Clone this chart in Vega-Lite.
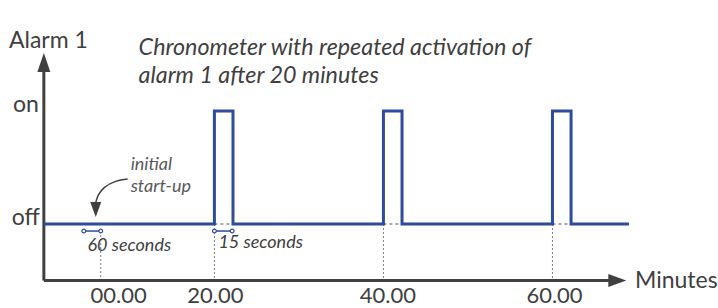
{
  "$schema": "https://vega.github.io/schema/vega-lite/v6.json",
  "autosize": {"type": "fit", "contains": "padding"},
  "width": 718,
  "height": 308,
  "padding": 0,
  "background": "white",
  "config": {"view": {"stroke": null}},
  "datasets": {
    "signal": [
      {"t": -0.18, "v": 0, "o": 1}, {"t": 20, "v": 0, "o": 2}, {"t": 20, "v": 1, "o": 3}, {"t": 22.2, "v": 1, "o": 4}, {"t": 22.2, "v": 0, "o": 5},
      {"t": 40, "v": 0, "o": 6}, {"t": 40, "v": 1, "o": 7}, {"t": 42.2, "v": 1, "o": 8}, {"t": 42.2, "v": 0, "o": 9},
      {"t": 60, "v": 0, "o": 10}, {"t": 60, "v": 1, "o": 11}, {"t": 62.2, "v": 1, "o": 12}, {"t": 62.2, "v": 0, "o": 13},
      {"t": 69.05, "v": 0, "o": 14}
    ],
    "gaps": [
      {"a": 20, "b": 22.2, "v": 0}, {"a": 40, "b": 42.2, "v": 0}, {"a": 60, "b": 62.2, "v": 0}
    ],
    "guides": [
      {"t": 6.55, "v1": -0.062, "v2": -0.5}, {"t": 20, "v1": 0, "v2": -0.5}, {"t": 40, "v1": 0, "v2": -0.5}, {"t": 60, "v1": 0, "v2": -0.5}
    ],
    "axes": [
      {"t1": -0.18, "t2": 66.9, "v1": -0.5, "v2": -0.5},
      {"t1": -0.18, "t2": -0.18, "v1": -0.5, "v2": 1.40}
    ],
    "arrows": [
      {"name": "up", "t": -0.18, "v": 1.429},
      {"name": "right", "t": 67.67, "v": -0.5},
      {"name": "down", "t": 5.96, "v": 0.128}
    ],
    "spans": [
      {"a": 4.54, "b": 6.55, "v": -0.062}, {"a": 20, "b": 22.1, "v": -0.062}
    ],
    "ends": [
      {"t": 4.54, "v": -0.062}, {"t": 6.55, "v": -0.062}, {"t": 20, "v": -0.062}, {"t": 22.1, "v": -0.062}
    ],
    "curve": [
      {"t": 9.73, "v": 0.398, "o": 1}, {"t": 8.2, "v": 0.381, "o": 2}, {"t": 6.9, "v": 0.327, "o": 3}, {"t": 6.2, "v": 0.257, "o": 4}, {"t": 5.96, "v": 0.19, "o": 5}
    ],
    "labelsLeft": [
      {"label": "Alarm 1", "t": -4.31, "v": 1.558},
      {"label": "Minutes", "t": 69.76, "v": -0.569}
    ],
    "labelsRight": [
      {"label": "on", "t": -0.77, "v": 0.991},
      {"label": "off", "t": -0.65, "v": -0.01}
    ],
    "ticks": [
      {"label": "00.00", "t": 8.67, "v": -0.699},
      {"label": "20.00", "t": 20.12, "v": -0.699},
      {"label": "40.00", "t": 40.53, "v": -0.699},
      {"label": "60.00", "t": 60.24, "v": -0.699}
    ],
    "title": [
      {"label": "Chronometer with repeated activation of", "t": 11.03, "v": 1.496},
      {"label": "alarm 1 after 20 minutes", "t": 11.03, "v": 1.248}
    ],
    "notes": [
      {"label": "60 seconds", "t": 4.98, "v": -0.235},
      {"label": "15 seconds", "t": 20.47, "v": -0.215}
    ],
    "startup": [
      {"label": "initial", "t": 10.09, "v": 0.478},
      {"label": "start-up", "t": 10.09, "v": 0.283}
    ]
  },
  "encoding": {
    "x": {"type": "quantitative", "scale": {"domain": [-5.369, 79.35], "nice": false, "zero": false}, "axis": null},
    "y": {"type": "quantitative", "scale": {"domain": [-0.743, 1.982], "nice": false, "zero": false}, "axis": null}
  },
  "layer": [
    {
      "data": {"name": "guides"},
      "mark": {"type": "rule", "color": "#7f7f7f", "strokeWidth": 1, "strokeDash": [2, 2]},
      "encoding": {"x": {"field": "t"}, "y": {"field": "v1"}, "y2": {"field": "v2"}}
    },
    {
      "data": {"name": "gaps"},
      "mark": {"type": "rule", "color": "#8c8c8c", "strokeWidth": 1.5, "strokeDash": [3, 3]},
      "encoding": {"x": {"field": "a"}, "x2": {"field": "b"}, "y": {"field": "v"}}
    },
    {
      "data": {"name": "axes"},
      "mark": {"type": "rule", "color": "#404040", "strokeWidth": 3},
      "encoding": {"x": {"field": "t1"}, "x2": {"field": "t2"}, "y": {"field": "v1"}, "y2": {"field": "v2"}}
    },
    {
      "data": {"name": "arrows"},
      "transform": [{"filter": "datum.name === 'up'"}],
      "mark": {"type": "point", "shape": "M0,-0.95L0.65,0.95L-0.65,0.95Z", "size": 400, "filled": true, "color": "#404040", "opacity": 1},
      "encoding": {"x": {"field": "t"}, "y": {"field": "v"}}
    },
    {
      "data": {"name": "arrows"},
      "transform": [{"filter": "datum.name === 'right'"}],
      "mark": {"type": "point", "shape": "M0.9,0L-0.9,0.65L-0.9,-0.65Z", "size": 400, "filled": true, "color": "#404040", "opacity": 1},
      "encoding": {"x": {"field": "t"}, "y": {"field": "v"}}
    },
    {
      "data": {"name": "arrows"},
      "transform": [{"filter": "datum.name === 'down'"}],
      "mark": {"type": "point", "shape": "M0,0.75L0.55,-0.75L-0.55,-0.75Z", "size": 400, "filled": true, "color": "#404040", "opacity": 1},
      "encoding": {"x": {"field": "t"}, "y": {"field": "v"}}
    },
    {
      "data": {"name": "curve"},
      "mark": {"type": "line", "color": "#404040", "strokeWidth": 1.5, "interpolate": "basis"},
      "encoding": {"x": {"field": "t"}, "y": {"field": "v"}, "order": {"field": "o"}}
    },
    {
      "data": {"name": "signal"},
      "mark": {"type": "line", "color": "#2f4b9b", "strokeWidth": 3, "strokeJoin": "miter"},
      "encoding": {"x": {"field": "t"}, "y": {"field": "v"}, "order": {"field": "o"}}
    },
    {
      "data": {"name": "spans"},
      "mark": {"type": "rule", "color": "#2f4b9b", "strokeWidth": 1.5},
      "encoding": {"x": {"field": "a"}, "x2": {"field": "b"}, "y": {"field": "v"}}
    },
    {
      "data": {"name": "ends"},
      "mark": {"type": "point", "shape": "circle", "size": 14, "filled": true, "fill": "white", "stroke": "#2f4b9b", "strokeWidth": 1.2, "opacity": 1},
      "encoding": {"x": {"field": "t"}, "y": {"field": "v"}}
    },
    {
      "data": {"name": "labelsLeft"},
      "mark": {"type": "text", "align": "left", "baseline": "alphabetic", "font": "Lato", "fontSize": 23, "color": "#404040"},
      "encoding": {"x": {"field": "t"}, "y": {"field": "v"}, "text": {"field": "label"}}
    },
    {
      "data": {"name": "labelsRight"},
      "mark": {"type": "text", "align": "right", "baseline": "alphabetic", "font": "Lato", "fontSize": 23, "color": "#404040"},
      "encoding": {"x": {"field": "t"}, "y": {"field": "v"}, "text": {"field": "label"}}
    },
    {
      "data": {"name": "ticks"},
      "mark": {"type": "text", "align": "center", "baseline": "alphabetic", "font": "Lato", "fontSize": 22, "color": "#404040"},
      "encoding": {"x": {"field": "t"}, "y": {"field": "v"}, "text": {"field": "label"}}
    },
    {
      "data": {"name": "title"},
      "mark": {"type": "text", "align": "left", "baseline": "alphabetic", "font": "Lato", "fontStyle": "italic", "fontSize": 23.3, "color": "#404040"},
      "encoding": {"x": {"field": "t"}, "y": {"field": "v"}, "text": {"field": "label"}}
    },
    {
      "data": {"name": "notes"},
      "mark": {"type": "text", "align": "left", "baseline": "alphabetic", "font": "Lato", "fontStyle": "italic", "fontSize": 18, "color": "#404040"},
      "encoding": {"x": {"field": "t"}, "y": {"field": "v"}, "text": {"field": "label"}}
    },
    {
      "data": {"name": "startup"},
      "mark": {"type": "text", "align": "left", "baseline": "alphabetic", "font": "Lato", "fontStyle": "italic", "fontSize": 18, "color": "#595959"},
      "encoding": {"x": {"field": "t"}, "y": {"field": "v"}, "text": {"field": "label"}}
    }
  ]
}
